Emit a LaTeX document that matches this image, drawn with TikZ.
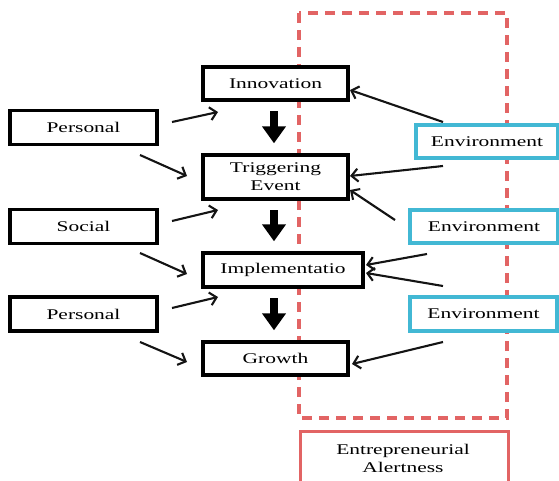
\documentclass[tikz,border=0pt]{standalone}
\usepackage{fontspec}
\setmainfont{Liberation Serif}[FakeStretch=1.45]
\usetikzlibrary{arrows.meta,calc}
\definecolor{envcyan}{RGB}{66,184,212}
\definecolor{alertred}{RGB}{226,100,100}
\begin{document}
\begin{tikzpicture}[x=1pt,y=-1pt,
  every node/.style={font=\fontsize{14.8}{18}\selectfont, align=center, inner sep=0pt},
  stage/.style={draw=black, line width=3.4pt, fill=white, minimum height=#1},
  stage/.default=33pt,
  factor/.style={draw=black, line width=3.4pt, fill=white, minimum width=147pt, minimum height=34pt},
  envbox/.style={draw=envcyan, line width=3.2pt, fill=white, minimum height=33pt},
  flow/.style={draw=black, line width=8.5pt, -{Triangle[width=23pt,length=17pt]},
    shorten <=9.5pt, shorten >=10pt},
  link/.style={draw=black!92, line width=2.1pt,
    -{Straight Barb[length=6.5pt,width=13pt,line width=2.1pt]}}]

\useasboundingbox (0,0) rectangle (559,481);
\clip (0,0) rectangle (559,481);

% alertness region
\draw[alertred, line width=3.3pt, dash pattern=on 10pt off 7pt]
  (299,13) rectangle (507,418);
\node[draw=alertred, line width=3.3pt, minimum width=208pt, minimum height=80pt,
  anchor=north west] (alert) at (299,430) {};
\node (alerttxt) at (403,458) {Entrepreneurial\\Alertness};

% process stages
\node[stage, minimum width=145pt] (inn) at (275.5,83.5) {Innovation};
\node[stage=44pt, minimum width=145pt] (trig) at (275.5,177) {Triggering\\Event};
\node[stage=34pt, minimum width=160pt] (impl) at (283,270) {Implementatio};
\node[stage, minimum width=145pt] (grow) at (275.5,358.5) {Growth};

% left-hand factors
\node[factor] (pers1) at (83.5,127.5) {Personal};
\node[factor] (soc) at (83.5,226.5) {Social};
\node[factor] (pers2) at (83.5,314) {Personal};

% right-hand factors
\node[envbox, minimum width=142pt] (env1) at (487,141.5) {Environment};
\node[envbox, minimum width=148pt] (env2) at (484,226.5) {Environment};
\node[envbox, minimum width=147pt, minimum height=34pt] (env3) at (483.5,314) {Environment};

% main flow
\coordinate (spine) at (274,0);
\draw[flow] (spine |- inn.south) -- (spine |- trig.north);
\draw[flow] (spine |- trig.south) -- (spine |- impl.north);
\draw[flow] (spine |- impl.south) -- (spine |- grow.north);

% arrow end points
\coordinate (p1a) at (172,122);  \coordinate (p1b) at (218,112);
\coordinate (p2a) at (140,155);  \coordinate (p2b) at (187,176);
\coordinate (s1a) at (172,221);  \coordinate (s1b) at (218,210);
\coordinate (s2a) at (140,253);  \coordinate (s2b) at (187,274);
\coordinate (q1a) at (172,308);  \coordinate (q1b) at (218,297);
\coordinate (q2a) at (140,342);  \coordinate (q2b) at (187,362);
\coordinate (e1a) at (443,122);  \coordinate (e1b) at (350,90);
\coordinate (e2a) at (443,166);  \coordinate (e2b) at (350,176);
\coordinate (e3a) at (395,220);  \coordinate (e3b) at (350,190);
\coordinate (e4a) at (427,254);  \coordinate (e4b) at (366,265);
\coordinate (e5a) at (443,286);  \coordinate (e5b) at (366,273);
\coordinate (e6a) at (443,342);  \coordinate (e6b) at (352,364);

\draw[link] (p1a) -- (p1b);
\draw[link] (p2a) -- (p2b);
\draw[link] (s1a) -- (s1b);
\draw[link] (s2a) -- (s2b);
\draw[link] (q1a) -- (q1b);
\draw[link] (q2a) -- (q2b);
\draw[link] (e1a) -- (e1b);
\draw[link] (e2a) -- (e2b);
\draw[link] (e3a) -- (e3b);
\draw[link] (e4a) -- (e4b);
\draw[link] (e5a) -- (e5b);
\draw[link] (e6a) -- (e6b);
\end{tikzpicture}
\end{document}
